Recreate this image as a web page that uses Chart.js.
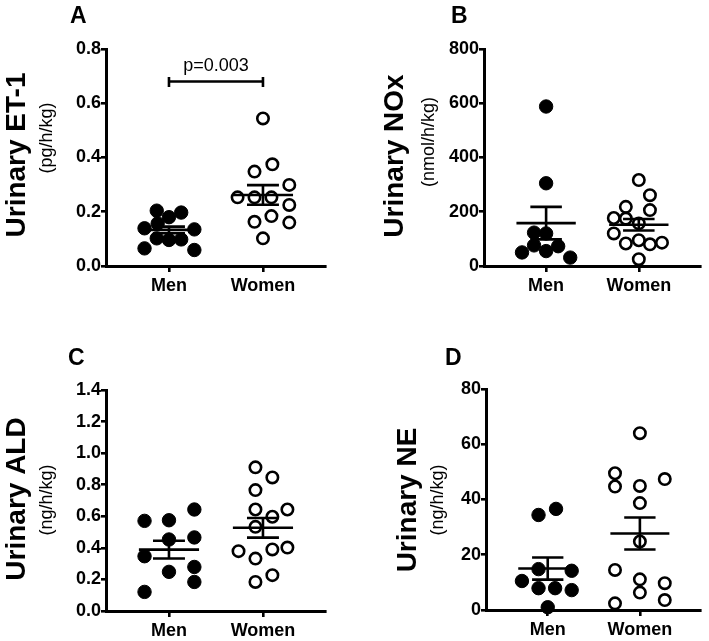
<!DOCTYPE html>
<html>
<head>
<meta charset="utf-8">
<script src="https://cdn.jsdelivr.net/npm/chart.js@4.4.0/dist/chart.umd.min.js"></script>
<style>
  body { margin: 0; background: #fff; }
  #wrap { position: relative; width: 709px; height: 641px; }
  canvas { position: absolute; }
</style>
</head>
<body>
<div id="wrap">
  <canvas id="chartA" width="354" height="320" style="left:0;top:0"></canvas>
  <canvas id="chartB" width="355" height="320" style="left:354px;top:0"></canvas>
  <canvas id="chartC" width="354" height="321" style="left:0;top:320px"></canvas>
  <canvas id="chartD" width="355" height="321" style="left:354px;top:320px"></canvas>
</div>
<script>
const groups = ["Men", "Women"];

// A - urinary ET-1 (pg/h/kg)
const et1Men = [0.204, 0.197, 0.180, 0.157, 0.139, 0.135, 0.102, 0.096, 0.098, 0.065, 0.059];
const et1MenX = [-0.13, 0.13, 0, -0.12, -0.26, 0.27, -0.13, 0, 0.13, -0.26, 0.27];
const et1Women = [0.544, 0.375, 0.348, 0.299, 0.253, 0.253, 0.253, 0.225, 0.184, 0.163, 0.160, 0.102];
const et1WomenX = [0, 0.1, -0.09, 0.28, -0.27, -0.09, 0.09, 0.28, 0.09, -0.09, 0.28, 0];
const et1Mean = [0.133, 0.262];
const et1Sem = [0.012, 0.036];

// B - urinary NOx (nmol/h/kg)
const noxMen = [588, 305, 123, 120, 76, 73, 50, 55, 31];
const noxMenX = [0, 0, -0.13, 0, -0.13, 0.13, -0.26, 0, 0.26];
const noxWomen = [317, 261, 218, 206, 177, 175, 157, 120, 83, 95, 80, 86, 25];
const noxWomenX = [0, 0.12, -0.14, 0.12, -0.27, -0.14, 0, -0.27, -0.14, 0, 0.12, 0.25, 0];
const noxMean = [158, 152];
const noxSem = [60, 21];

// C - urinary ALD (ng/h/kg)
const aldMen = [0.571, 0.575, 0.643, 0.453, 0.466, 0.347, 0.248, 0.279, 0.184, 0.121];
const aldMenX = [-0.26, 0, 0.27, 0, 0.27, -0.26, 0, 0.27, 0.27, -0.26];
const aldWomen = [0.910, 0.846, 0.766, 0.643, 0.643, 0.597, 0.533, 0.379, 0.390, 0.402, 0.332, 0.227, 0.184];
const aldWomenX = [-0.08, 0.1, -0.08, -0.08, 0.26, 0.1, -0.08, -0.26, 0.1, 0.26, -0.08, 0.1, -0.08];
const aldMean = [0.389, 0.527];
const aldSem = [0.056, 0.062];

// D - urinary NE (ng/h/kg)
const neMen = [34.4, 36.6, 14.8, 14.2, 10.5, 7.9, 7.9, 7.2, 1.0];
const neMenX = [-0.1, 0.09, -0.1, 0.26, -0.28, -0.1, 0.08, 0.26, 0];
const neWomen = [64.0, 49.5, 44.7, 44.9, 47.4, 38.7, 24.8, 14.5, 11.1, 6.3, 9.7, 3.6, 2.4];
const neWomenX = [0, -0.27, -0.27, 0, 0.27, 0, 0, -0.27, 0, 0, 0.27, 0.27, -0.27];
const neMean = [15.0, 27.7];
const neSem = [4.0, 5.8];

// significance bracket in A
const et1Pvalue = "p=0.003";
const et1BracketY = 0.68;

const family = "'Liberation Sans', Arial, Helvetica, sans-serif";
Chart.defaults.font.family = family;
Chart.defaults.color = "#000";

function groupPoints(values, jitter, center) {
  return values.map((v, i) => ({ x: center + jitter[i], y: v }));
}

function meanSemPoints(mean, sem, center) {
  const gap = { x: NaN, y: NaN };
  const w = 0.32, c = 0.17;
  return [
    { x: center - w, y: mean }, { x: center + w, y: mean }, gap,
    { x: center, y: mean - sem }, { x: center, y: mean + sem }, gap,
    { x: center - c, y: mean + sem }, { x: center + c, y: mean + sem }, gap,
    { x: center - c, y: mean - sem }, { x: center + c, y: mean - sem }
  ];
}

function lineSet(data) {
  return {
    data: data,
    showLine: true,
    borderColor: "#000",
    borderWidth: 2.6,
    pointRadius: 0,
    pointHoverRadius: 0,
    clip: false,
    order: 0
  };
}

// draws panel letter, rotated axis titles and the p-value
const panelText = {
  id: "panelText",
  afterDraw(chart, args, o) {
    const ctx = chart.ctx;
    ctx.save();
    ctx.fillStyle = "#000";
    ctx.textBaseline = "alphabetic";
    ctx.textAlign = "left";
    ctx.font = "bold 23px " + family;
    ctx.fillText(o.letter, o.letterX, o.letterY);

    ctx.textAlign = "center";
    ctx.save();
    ctx.translate(o.titleBase, o.titleCy);
    ctx.rotate(-Math.PI / 2);
    ctx.font = "bold 28px " + family;
    ctx.fillText(o.title, 0, 0);
    ctx.restore();

    ctx.save();
    ctx.translate(o.subBase, o.subCy);
    ctx.rotate(-Math.PI / 2);
    ctx.font = "18px " + family;
    ctx.fillText(o.unit, 0, 0);
    ctx.restore();

    if (o.note) {
      const x = chart.scales.x.getPixelForValue(o.note.x);
      const y = chart.scales.y.getPixelForValue(o.note.y);
      ctx.font = "18px " + family;
      ctx.fillText(o.note.text, x, y);
    }
    ctx.restore();
  }
};

function makeChart(id, p) {
  const canvas = document.getElementById(id);
  const W = canvas.width, H = canvas.height;

  const datasets = [
    {
      data: groupPoints(p.men, p.menX, 1),
      pointRadius: 6.7,
      pointHoverRadius: 6.7,
      pointBackgroundColor: "#000",
      pointBorderColor: "#000",
      pointBorderWidth: 1,
      clip: false,
      order: 1
    },
    {
      data: groupPoints(p.women, p.womenX, 2),
      pointRadius: 5.7,
      pointHoverRadius: 5.7,
      pointBackgroundColor: "#fff",
      pointBorderColor: "#000",
      pointBorderWidth: 2.6,
      clip: false,
      order: 1
    },
    lineSet(meanSemPoints(p.mean[0], p.sem[0], 1)),
    lineSet(meanSemPoints(p.mean[1], p.sem[1], 2))
  ];
  if (p.bracket) datasets.push(lineSet(p.bracket));

  return new Chart(canvas, {
    type: "scatter",
    data: { datasets },
    options: {
      responsive: false,
      animation: false,
      events: [],
      layout: { padding: { left: 0, top: p.area.top, right: W - p.area.right, bottom: 0 } },
      plugins: {
        legend: { display: false },
        tooltip: { enabled: false },
        panelText: p.text
      },
      scales: {
        x: {
          type: "linear",
          min: 0.33,
          max: 2.66,
          afterBuildTicks: s => { s.ticks = groups.map((g, i) => ({ value: i + 1 })); },
          afterFit: s => { s.height = H - p.area.bottom; },
          ticks: {
            callback: v => groups[v - 1],
            font: { size: 18, weight: "bold" },
            padding: 3,
            maxRotation: 0,
            autoSkip: false
          },
          grid: { drawOnChartArea: false, drawTicks: true, tickLength: 6, lineWidth: 2.6, color: "#000" },
          border: { display: true, width: 3, color: "#000" }
        },
        y: {
          min: 0,
          max: p.yMax,
          afterFit: s => { s.width = p.area.left; },
          ticks: {
            stepSize: p.yStep,
            callback: v => v.toFixed(p.decimals),
            font: { size: 18, weight: "bold" },
            padding: 0
          },
          grid: { drawOnChartArea: false, drawTicks: true, tickLength: 5, lineWidth: 2.6, color: "#000" },
          border: { display: true, width: 3, color: "#000" }
        }
      }
    },
    plugins: [panelText]
  });
}

const gap = { x: NaN, y: NaN };

makeChart("chartA", {
  men: et1Men, menX: et1MenX, women: et1Women, womenX: et1WomenX,
  mean: et1Mean, sem: et1Sem,
  yMax: 0.8, yStep: 0.2, decimals: 1,
  area: { left: 106, top: 49, right: 325, bottom: 266 },
  bracket: [
    { x: 1, y: et1BracketY + 0.017 }, { x: 1, y: et1BracketY - 0.02 }, gap,
    { x: 1, y: et1BracketY }, { x: 2, y: et1BracketY }, gap,
    { x: 2, y: et1BracketY + 0.017 }, { x: 2, y: et1BracketY - 0.02 }
  ],
  text: {
    letter: "A", letterX: 70, letterY: 23,
    title: "Urinary ET-1", titleBase: 25, titleCy: 155,
    unit: "(pg/h/kg)", subBase: 52, subCy: 138,
    note: { text: et1Pvalue, x: 1.5, y: 0.72 }
  }
});

makeChart("chartB", {
  men: noxMen, menX: noxMenX, women: noxWomen, womenX: noxWomenX,
  mean: noxMean, sem: noxSem,
  yMax: 800, yStep: 200, decimals: 0,
  area: { left: 130, top: 49, right: 346, bottom: 266 },
  text: {
    letter: "B", letterX: 97, letterY: 23,
    title: "Urinary NOx", titleBase: 49, titleCy: 156,
    unit: "(nmol/h/kg)", subBase: 80, subCy: 142
  }
});

makeChart("chartC", {
  men: aldMen, menX: aldMenX, women: aldWomen, womenX: aldWomenX,
  mean: aldMean, sem: aldSem,
  yMax: 1.4, yStep: 0.2, decimals: 1,
  area: { left: 106, top: 70, right: 325, bottom: 291 },
  text: {
    letter: "C", letterX: 68, letterY: 45,
    title: "Urinary ALD", titleBase: 25, titleCy: 179,
    unit: "(ng/h/kg)", subBase: 52, subCy: 180
  }
});

makeChart("chartD", {
  men: neMen, menX: neMenX, women: neWomen, womenX: neWomenX,
  mean: neMean, sem: neSem,
  yMax: 80, yStep: 20, decimals: 0,
  area: { left: 132, top: 69, right: 349, bottom: 290 },
  text: {
    letter: "D", letterX: 91, letterY: 45,
    title: "Urinary NE", titleBase: 62, titleCy: 180,
    unit: "(ng/h/kg)", subBase: 89, subCy: 180
  }
});
</script>
</body>
</html>
